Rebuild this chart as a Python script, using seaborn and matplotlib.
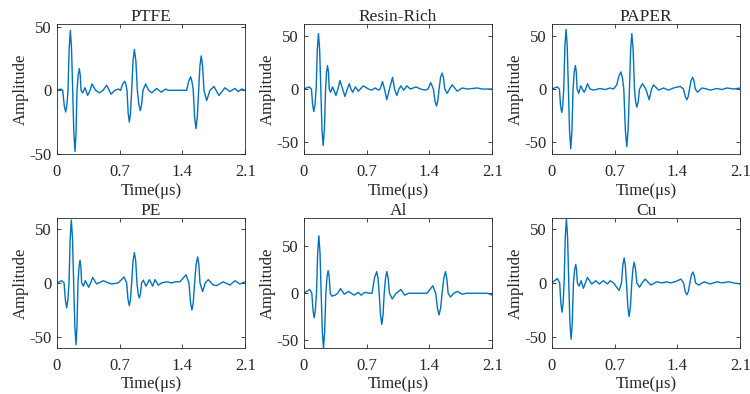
import numpy as np
import matplotlib
matplotlib.use("Agg")
import matplotlib.pyplot as plt
import seaborn as sns
import pandas as pd

# waveform traces (time in us, amplitude)
ptfe_t = [0, 0.045, 0.067, 0.084, 0.100, 0.113, 0.126, 0.139, 0.152, 0.165, 0.178, 0.191, 0.204, 0.215, 0.226,
          0.239, 0.252, 0.262, 0.271, 0.289, 0.315, 0.345, 0.371, 0.393, 0.434, 0.475, 0.516, 0.557, 0.605,
          0.649, 0.686, 0.712, 0.735, 0.757, 0.770, 0.783, 0.796, 0.809, 0.822, 0.835, 0.850, 0.865, 0.882,
          0.898, 0.915, 0.931, 0.946, 0.961, 0.991, 1.024, 1.058, 1.113, 1.165, 1.213, 1.243, 1.447, 1.470,
          1.492, 1.506, 1.521, 1.536, 1.551, 1.566, 1.581, 1.595, 1.610, 1.625, 1.640, 1.670, 1.707, 1.751,
          1.807, 1.874, 1.929, 1.985, 2.022, 2.059, 2.100]
ptfe_a = [0, 1, 0, -12, -17, -12, 0, 33, 47, 33, 0, -34, -48, -34, 0,
          12, 17, 12, 0, -2, 2, -4, 0, 5, 0, -2, 0, 4, -3,
          0, 1, 0, 5, 7, 5, 0, -18, -25, -18, 0, 23, 32, 23,
          0, -11, -16, -11, 0, 5, 0, -2, 1.5, -1.5, 1, 0, 0, 7,
          10.6, 7, 0, -21, -30, -21, 0, 19, 27, 19, 0, -8, 0, 3,
          -4, 2, -1, 1.5, -1, 1, 0]

resin_t = [0, 0.060, 0.086, 0.099, 0.112, 0.125, 0.138, 0.151, 0.164, 0.177, 0.190, 0.203, 0.216, 0.230, 0.243,
           0.254, 0.265, 0.275, 0.284, 0.299, 0.321, 0.358, 0.381, 0.403, 0.433, 0.459, 0.485, 0.507, 0.526,
           0.545, 0.575, 0.608, 0.664, 0.720, 0.757, 0.795, 0.832, 0.851, 0.877, 0.899, 0.925, 0.955, 0.989,
           1.011, 1.037, 1.060, 1.082, 1.112, 1.149, 1.187, 1.250, 1.299, 1.354, 1.384, 1.414, 1.444, 1.461,
           1.478, 1.493, 1.507, 1.524, 1.541, 1.556, 1.571, 1.597, 1.623, 1.653, 1.709, 1.765, 1.821, 1.933,
           1.989, 2.100]
resin_a = [0, 2, 0, -15, -21, -15, 0, 37, 52, 37, 0, -38, -53, -38, 0,
           16, 22, 16, 0, -3, 2, -6, 0, 8, 0, -7, 0, 5, 0,
           -3, 2, -2, 3, 0, -1, 1, -1, 0, 7, 0, -10, 0, 11,
           0, -6, 0, 3, -1, 3, 0, 2, 0, -1, 0, 6, 0, -11,
           -16, -11, 0, 11, 15, 11, 0, -4, 0, 4, -2, 1, 0, 1,
           0, 0]

paper_t = [0, 0.063, 0.086, 0.099, 0.112, 0.123, 0.134, 0.147, 0.160, 0.173, 0.186, 0.199, 0.212, 0.225, 0.238,
           0.251, 0.264, 0.274, 0.283, 0.301, 0.323, 0.361, 0.379, 0.398, 0.428, 0.465, 0.539, 0.595, 0.651,
           0.688, 0.725, 0.748, 0.770, 0.787, 0.803, 0.820, 0.836, 0.851, 0.866, 0.879, 0.892, 0.907, 0.922,
           0.935, 0.948, 0.963, 0.978, 1.011, 1.048, 1.086, 1.112, 1.134, 1.190, 1.245, 1.301, 1.357, 1.431,
           1.468, 1.487, 1.506, 1.520, 1.535, 1.552, 1.569, 1.584, 1.599, 1.625, 1.673, 1.729, 1.766, 1.840,
           1.896, 1.952, 2.026, 2.100]
paper_a = [0, 2, 0, -16, -22, -16, 0, 40, 56, 40, 0, -40, -56, -40, 0,
           16, 22, 16, 0, -4, 3, -3, 0, 5, 0, -1, 0.5, -0.5, 1,
           0, 4, 12, 16, 11, 0, -38, -54, -38, 0, 37, 52, 37, 0,
           -12, -17, -12, 0, 5, 0, -10, 0, 4, -1, 1, -1, 1, 2.5,
           0, -7, -10, -7, 0, 8, 11, 8, 0, -3, 1, 0, -1, 0.5,
           -0.5, 1, 0, 1]

pe_t = [0, 0.056, 0.082, 0.097, 0.111, 0.124, 0.137, 0.150, 0.163, 0.176, 0.189, 0.202, 0.215, 0.226, 0.237,
        0.249, 0.260, 0.269, 0.278, 0.297, 0.319, 0.356, 0.378, 0.401, 0.445, 0.519, 0.575, 0.612, 0.686,
        0.750, 0.779, 0.794, 0.809, 0.822, 0.835, 0.850, 0.865, 0.880, 0.894, 0.907, 0.920, 0.933, 0.946,
        0.965, 0.994, 1.032, 1.069, 1.095, 1.132, 1.169, 1.224, 1.280, 1.317, 1.373, 1.440, 1.473, 1.490,
        1.506, 1.521, 1.536, 1.553, 1.570, 1.583, 1.596, 1.625, 1.655, 1.688, 1.744, 1.781, 1.855, 1.929,
        1.985, 2.041, 2.100]
pe_a = [0, 2, 0, -16, -23, -16, 0, 41, 58, 41, 0, -40, -57, -40, 0,
        15, 21, 15, 0, -3, 2, -4, 0, 5, -1, 2, 0, -1, 0,
        5.5, 0, -15, -21, -15, 0, 20, 28, 20, 0, -10, -14, -10, 0,
        2.5, -3, 3, -3, 3, -2, 0, 1, 0, 1, 1, 7.5, 0, -18,
        -25, -18, 0, 17, 24, 17, 0, -8, 0, 3, -2, -2.5, 1, -2,
        2, -1, 1]

al_t = [0, 0.067, 0.090, 0.103, 0.116, 0.129, 0.142, 0.155, 0.168, 0.181, 0.194, 0.207, 0.220, 0.233, 0.246,
        0.259, 0.272, 0.284, 0.295, 0.313, 0.351, 0.377, 0.410, 0.451, 0.500, 0.560, 0.608, 0.638, 0.683,
        0.731, 0.761, 0.787, 0.813, 0.827, 0.840, 0.855, 0.869, 0.883, 0.896, 0.911, 0.925, 0.940, 0.955,
        0.985, 1.030, 1.082, 1.123, 1.168, 1.373, 1.437, 1.470, 1.489, 1.507, 1.524, 1.541, 1.560, 1.578,
        1.593, 1.608, 1.634, 1.672, 1.709, 1.765, 1.813, 2.045, 2.100]
al_a = [0, 4, 0, -18, -26, -18, 0, 43, 61, 43, 0, -41, -58, -41, 0,
        17, 24, 17, 0, -3, -2, 0, 5, -1, 2, -2, 1, -2, 1,
        0, 0, 16, 23, 16, 0, -23, -33, -23, 0, 16, 23, 16, 0,
        -6, 0, 4, -2, 0, 0, 8, 0, -16, -23, -16, 0, 16, 23,
        16, 0, -4, 0, 2, -1, 0, 0, -2]

cu_t = [0, 0.063, 0.089, 0.102, 0.115, 0.127, 0.138, 0.151, 0.164, 0.177, 0.190, 0.203, 0.216, 0.229, 0.242,
        0.255, 0.268, 0.277, 0.286, 0.305, 0.327, 0.353, 0.375, 0.398, 0.446, 0.491, 0.532, 0.576, 0.621,
        0.651, 0.688, 0.751, 0.777, 0.792, 0.807, 0.820, 0.833, 0.848, 0.862, 0.877, 0.892, 0.905, 0.918,
        0.933, 0.948, 0.978, 1.007, 1.041, 1.104, 1.171, 1.227, 1.283, 1.320, 1.375, 1.439, 1.468, 1.487,
        1.506, 1.522, 1.539, 1.555, 1.572, 1.587, 1.602, 1.636, 1.699, 1.766, 1.840, 1.896, 1.970, 2.026,
        2.100]
cu_a = [0, 4, 0, -19, -27, -19, 0, 42, 59, 42, 0, -37, -52, -37, 0,
        12, 17, 12, 0, -3, 2, -5, 0, 5, -1, 2, -1, 2, -1,
        2, 0, -7, 0, 16, 23, 16, 0, -22, -31, -22, 0, 13, 19,
        13, 0, -4, 0, 3.5, -2, 1, 0, 1, 0, 1, 3.5, 0, -8,
        -11, -8, 0, 7, 10, 7, 0, -2, 1, -1, 1, 0, 1, 0,
        -1]

titles = ["PTFE", "Resin-Rich", "PAPER", "PE", "Al", "Cu"]
series = [(ptfe_t, ptfe_a), (resin_t, resin_a), (paper_t, paper_a),
          (pe_t, pe_a), (al_t, al_a), (cu_t, cu_a)]
ylims = [(-50, 52), (-61, 61), (-61, 61), (-60, 60), (-58, 80), (-60, 60)]
xticks = [0, 0.7, 1.4, 2.1]
xticklabels = ["0", "0.7", "1.4", "2.1"]
yticks = [-50, 0, 50]

sns.set_theme(style="ticks")
plt.rcParams['font.family'] = ['Liberation Serif', 'DejaVu Serif']
plt.rcParams['axes.unicode_minus'] = False

fig = plt.figure(figsize=(7.5, 3.94), dpi=100)
lefts = [0.0756, 0.405, 0.7356]
bottoms = [0.609, 0.117]
w, h = 0.2514, 0.33

for i, (name, (t, a)) in enumerate(zip(titles, series)):
    ax = fig.add_axes([lefts[i % 3], bottoms[i // 3], w, h])
    df = pd.DataFrame({"t": t, "a": a})
    sns.lineplot(data=df, x="t", y="a", ax=ax, color="#0072BD", linewidth=1.0,
                 estimator=None, sort=False)
    ax.set_xlim(0, 2.1)
    ax.set_ylim(*ylims[i])
    ax.set_xticks(xticks)
    ax.set_xticklabels(xticklabels)
    ax.set_yticks(yticks)
    ax.set_title(name, fontsize=12.5, pad=2)
    ax.set_xlabel("Time(μs)", fontsize=12, labelpad=2)
    ax.set_ylabel("Amplitude", fontsize=12, labelpad=0)
    ax.tick_params(direction="in", length=3, width=0.6, labelsize=12, top=True, right=True,
                   colors="#262626")
    ax.tick_params(axis="x", pad=7)
    ax.tick_params(axis="y", pad=4)
    for s in ax.spines.values():
        s.set_linewidth(0.6)
        s.set_color("#262626")

fig.savefig("out.png", dpi=100)
